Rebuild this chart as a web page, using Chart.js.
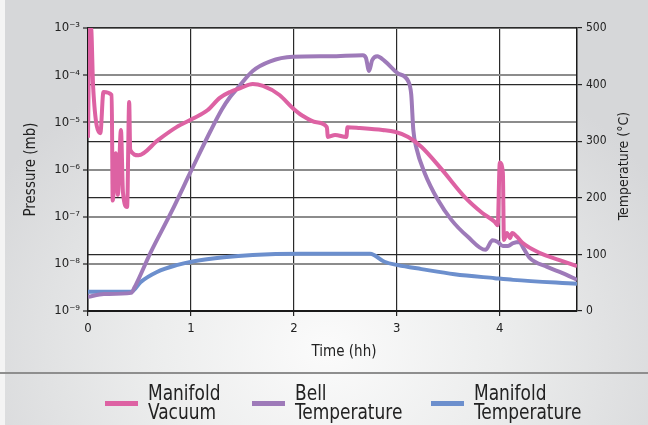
<!DOCTYPE html>
<html>
<head>
<meta charset="utf-8">
<script src="https://cdn.jsdelivr.net/npm/chart.js@4.4.1/dist/chart.umd.min.js"></script>
<style>
  html, body { margin: 0; padding: 0; background: #f4f4f4; }
  #wrap { position: relative; width: 648px; height: 425px; overflow: hidden; }
  #panel { position: absolute; left: 5px; top: 0; width: 643px; height: 425px;
    background: radial-gradient(ellipse 60% 75% at 50% 82%, #fbfbfb 0%, #eceded 45%, #d6d7d9 100%); }
  #sep { position: absolute; left: 0; top: 372px; width: 648px; height: 2px; background: #8e8e8e; }
  canvas { position: absolute; left: 0; top: 0; }
  .lg { position: absolute; font-family: 'Liberation Sans Narrow','Arial Narrow','DejaVu Sans Condensed',sans-serif;
    font-size: 21px; line-height: 19px; color: #222; white-space: nowrap;
    transform: scaleX(0.9); transform-origin: 0 0; }
  .sw { position: absolute; height: 5px; width: 33px; top: 401px; }
</style>
</head>
<body>
<div id="wrap">
  <div id="panel"></div>
  <div id="sep"></div>
  <canvas id="c" width="648" height="425"></canvas>
  <div class="sw" style="left:105px;background:#dd62a3"></div>
  <div class="lg" style="left:148px;top:384px">Manifold<br>Vacuum</div>
  <div class="sw" style="left:252px;background:#9e7ab9"></div>
  <div class="lg" style="left:295px;top:384px">Bell<br>Temperature</div>
  <div class="sw" style="left:431px;background:#6c8fcd"></div>
  <div class="lg" style="left:474px;top:384px">Manifold<br>Temperature</div>
</div>
<script>
// ---- data (time in hours) ----
const vacuumTime = [0.00, 0.015, 0.03, 0.05, 0.12, 0.15, 0.23, 0.24, 0.27, 0.29, 0.32, 0.34, 0.38, 0.40, 0.41, 0.49, 0.68, 0.86, 1.02, 1.16, 1.28, 1.38, 1.48, 1.60, 1.70, 1.86, 1.99, 2.08, 2.22, 2.32, 2.33, 2.40, 2.51, 2.52, 2.64, 2.86, 2.98, 3.11, 3.24, 3.44, 3.66, 3.83, 3.95, 3.98, 4.00, 4.03, 4.04, 4.07, 4.10, 4.12, 4.17, 4.22, 4.39, 4.58, 4.75];
const vacuumPressure = [4.7e-6, 1e-3, 1e-3, 5.6e-5, 5.9e-6, 4.4e-5, 3.8e-5, 2.2e-7, 2.2e-6, 2.9e-7, 6.9e-6, 3.2e-7, 1.6e-7, 2.7e-5, 2.6e-6, 2.0e-6, 4.2e-6, 7.9e-6, 1.2e-5, 1.8e-5, 3.3e-5, 4.4e-5, 5.3e-5, 6.5e-5, 5.9e-5, 3.8e-5, 2.0e-5, 1.4e-5, 1.0e-5, 7.9e-6, 4.9e-6, 5.4e-6, 4.9e-6, 7.9e-6, 7.6e-6, 6.9e-6, 6.3e-6, 4.9e-6, 3.0e-6, 9.8e-7, 2.6e-7, 1.2e-7, 7.8e-8, 6.6e-8, 1.4e-6, 8.5e-7, 3.2e-8, 4.5e-8, 3.5e-8, 4.5e-8, 3.7e-8, 2.8e-8, 1.7e-8, 1.2e-8, 8.9e-9];

const bellTime = [0.00, 0.155, 0.42, 0.45, 0.61, 0.81, 1.00, 1.19, 1.30, 1.38, 1.45, 1.60, 1.77, 1.99, 2.35, 2.67, 2.70, 2.73, 2.76, 2.81, 2.88, 3.01, 3.11, 3.14, 3.16, 3.19, 3.27, 3.40, 3.53, 3.69, 3.86, 3.93, 3.98, 4.03, 4.08, 4.13, 4.19, 4.23, 4.29, 4.46, 4.61, 4.75];
const bellTemp = [25, 30, 32, 41, 104, 175, 247, 318, 356, 378, 393, 424, 441, 449, 450, 452, 447, 424, 443, 450, 442, 420, 406, 382, 320, 288, 244, 196, 161, 131, 108, 125, 122, 115, 115, 120, 122, 111, 94, 78, 67, 55];

const manifoldTime = [0.00, 0.42, 0.51, 0.67, 0.86, 1.03, 1.32, 1.60, 2.06, 2.74, 2.88, 3.01, 3.24, 3.56, 3.95, 4.13, 4.75];
const manifoldTemp = [34, 34, 51, 69, 81, 88, 95, 99, 101, 101, 87, 81, 74, 65, 58, 55, 48];

const timeTicks = [0, 1, 2, 3, 4];
const pressureExponents = [-9, -8, -7, -6, -5, -4, -3];
const tempTicks = [0, 100, 200, 300, 400, 500];

const FONT = "'Liberation Sans Narrow','Arial Narrow','DejaVu Sans Condensed',sans-serif";
Chart.defaults.font.family = FONT;
Chart.defaults.color = '#222';

const SUP = {'-':'\u207B','0':'\u2070','1':'\u00B9','2':'\u00B2','3':'\u00B3','4':'\u2074','5':'\u2075','6':'\u2076','7':'\u2077','8':'\u2078','9':'\u2079'};
const sup = s => String(s).split('').map(ch => SUP[ch] || ch).join('');

const pts = (xs, ys) => xs.map((x, i) => ({x, y: ys[i]}));

const bgPlugin = {
  id: 'bg',
  beforeDraw(chart) {
    const {ctx, chartArea: a} = chart;
    ctx.save();
    ctx.fillStyle = '#ffffff';
    ctx.fillRect(a.left, a.top, a.right - a.left, a.bottom - a.top);
    ctx.restore();
  },
  afterDraw(chart) {
    const {ctx} = chart;
    ctx.save();
    ctx.fillStyle = '#222';
    ctx.textAlign = 'center';
    ctx.textBaseline = 'middle';
    ctx.font = '15px ' + FONT;
    ctx.fillText('Time (hh)', 344, 352);
    ctx.font = '14px ' + FONT;
    ctx.translate(624, 166);
    ctx.rotate(-Math.PI / 2);
    ctx.fillText('Temperature (\u00B0C)', 0, 0);
    ctx.restore();
  }
};

new Chart(document.getElementById('c'), {
  type: 'line',
  data: {
    datasets: [
      { label: 'Manifold Vacuum', data: pts(vacuumTime, vacuumPressure), yAxisID: 'y',
        borderColor: '#dd62a3', borderWidth: 4, pointRadius: 0, cubicInterpolationMode: 'monotone' },
      { label: 'Bell Temperature', data: pts(bellTime, bellTemp), yAxisID: 'y2',
        borderColor: '#9e7ab9', borderWidth: 4, pointRadius: 0, cubicInterpolationMode: 'monotone' },
      { label: 'Manifold Temperature', data: pts(manifoldTime, manifoldTemp), yAxisID: 'y2',
        borderColor: '#6c8fcd', borderWidth: 4, pointRadius: 0, cubicInterpolationMode: 'monotone' }
    ]
  },
  options: {
    responsive: false,
    animation: false,
    events: [],
    layout: { padding: { left: 0, right: 0, top: 28, bottom: 53 } },
    plugins: { legend: { display: false }, tooltip: { enabled: false } },
    scales: {
      x: {
        type: 'linear', min: 0, max: 4.75,
        afterBuildTicks: s => { s.ticks = timeTicks.map(v => ({value: v})); },
        afterFit: s => { s.height = 372 - 311; },
        ticks: { font: { size: 13 }, color: '#222', padding: 5, maxRotation: 0, callback: v => String(v) },
        grid: { color: '#2a2a2a', lineWidth: 1.2, tickLength: 5, tickColor: '#222' },
        border: { color: '#1a1a1a', width: 2 }
      },
      y: {
        type: 'logarithmic', position: 'left', min: 1e-9, max: 1e-3,
        afterBuildTicks: s => { s.ticks = pressureExponents.map(e => ({value: Number('1e' + e)})); },
        afterFit: s => { s.width = 88; },
        ticks: { font: { size: 13 }, color: '#222', padding: 3,
          callback: v => '10' + sup(Math.round(Math.log10(v))) },
        grid: { color: '#8c8c8c', lineWidth: 2, tickLength: 5, tickColor: '#222', tickWidth: 1.2 },
        border: { color: '#1a1a1a', width: 1.5 },
        title: { display: true, text: 'Pressure (mb)', font: { size: 15 }, color: '#222', padding: { top: 22, bottom: 0 } }
      },
      y2: {
        type: 'linear', position: 'right', min: 0, max: 500,
        afterBuildTicks: s => { s.ticks = tempTicks.map(v => ({value: v})); },
        afterFit: s => { s.width = 648 - 577; },
        ticks: { font: { size: 12 }, color: '#222', padding: 4 },
        grid: { color: '#2a2a2a', lineWidth: 1.2, tickLength: 5, tickColor: '#222' },
        border: { color: '#1a1a1a', width: 1.5 }
      }
    }
  },
  plugins: [bgPlugin]
});
</script>
</body>
</html>
